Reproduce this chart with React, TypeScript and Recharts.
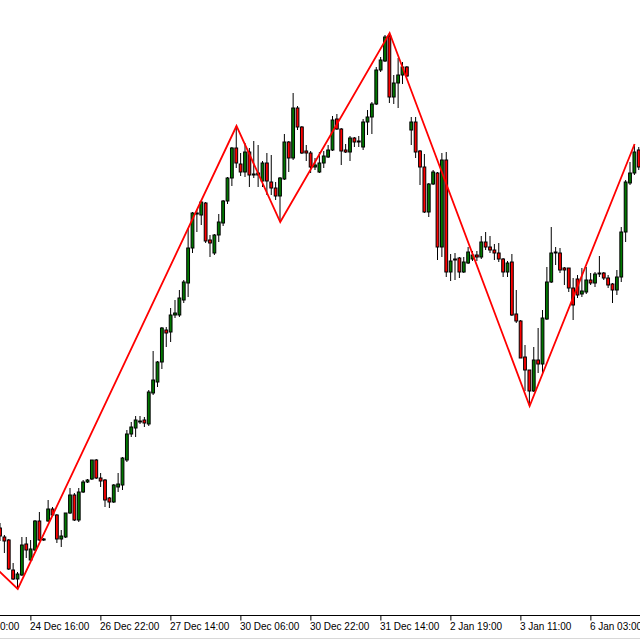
import React from 'react';
import { ComposedChart, Bar, Line, XAxis, YAxis } from 'recharts';

// Hourly candles (price in points), bar index 0..146
const opens = [92,83,80,50,41,45,76,60,70,99, 81,99,111,105,81,83,107,125,100,128, 138,141,160,142,140,122,118,133,135,160, 186,192,199,200,196,227,238,258,290,288, 305,305,320,337,372,406,405,417,380,367, 385,397,419,442,472,456,448,468,445,445, 439,457,438,432,424,441,478,462,512,493, 469,467,453,448,457,463,470,501,491,470, 468,482,479,473,498,503,516,550,559,584, 523,537,545,553,490,498,469,453,408,436, 447,373,460,348,361,362,348,357,361,365, 363,378,373,370,367,361,348,358,306,299, 263,250,229,260,256,301,338,367,367,352, 352,332,341,326,328,340,337,346,347,342, 336,330,343,388,437,447,470];
const highs = [97,85,81,57,48,83,83,80,100,108, 82,120,113,106,90,107,132,127,132,140, 141,160,161,147,141,123,136,147,163,190, 198,204,204,203,230,269,259,293,293,312, 320,330,340,392,408,410,420,418,385,386, 406,420,443,473,494,467,477,472,479,475, 459,467,465,438,443,486,479,527,514,494, 475,469,462,468,469,475,504,506,492,476, 484,483,484,501,510,518,553,563,585,587, 545,562,558,554,503,503,470,466,437,450, 448,467,468,366,367,363,363,373,369,369, 384,388,384,376,377,362,359,366,330,300, 275,250,273,292,310,353,393,373,372,353, 352,342,345,352,353,347,348,364,348,345, 337,350,393,440,458,476,473];
const lows = [79,67,50,40,31,44,62,59,69,79, 79,98,104,77,73,82,106,99,98,127, 137,140,141,133,113,112,117,128,130,158, 183,183,196,193,194,225,233,251,273,278, 302,303,317,323,367,388,395,377,363,365, 378,394,416,434,452,444,443,433,442,433, 433,425,425,420,398,440,448,460,490,466, 459,447,450,447,452,462,469,490,455,467, 459,473,473,470,485,486,515,548,558,517, 516,512,536,543,475,462,435,407,403,435, 360,363,343,339,340,342,347,356,359,359, 361,370,367,360,358,343,343,304,297,262, 229,214,228,247,247,300,337,355,347,335, 328,300,322,323,326,335,333,343,340,332, 317,325,338,378,435,445,450];
const closes = [84,79,51,41,46,75,70,71,99,80, 80,111,105,81,84,107,125,100,128,138, 140,160,142,139,120,118,135,136,162,186, 193,200,198,197,228,240,258,292,287,305, 307,322,338,372,407,407,418,379,377,385, 398,419,442,472,457,448,468,445,446,447, 457,439,432,424,442,478,462,512,493,467, 467,453,455,457,464,470,500,491,469,468, 482,478,478,498,503,516,550,560,583,523, 537,545,553,544,498,468,453,408,436,448, 373,460,348,359,360,348,358,368,365,363, 378,373,370,367,361,348,357,305,299,262, 250,229,260,256,302,338,367,368,350,350, 332,315,325,329,340,337,346,347,342,335, 330,343,388,438,447,468,453];

// ZigZag pivots (bar index, price)
const zzIdx = [-6, 4, 54, 64, 89, 121, 145];
const zzVal = [73, 31, 494, 398, 587, 214, 476];

// Time axis labels (bar index, text)
const tickIdx = [-9, 7, 23, 39, 55, 71, 87, 103, 119, 135];
const tickText = ['24 Dec 00:00', '24 Dec 16:00', '26 Dec 22:00', '27 Dec 14:00', '30 Dec 06:00', '30 Dec 22:00', '31 Dec 14:00', '2 Jan 19:00', '3 Jan 11:00', '6 Jan 03:00'];

const GREEN = '#007800';
const RED = '#ff0000';

type Row = { t: number; o?: number; h?: number; l?: number; c?: number; range?: [number, number]; zz?: number };

const rows: Row[] = [];
zzIdx.forEach((t, k) => { if (t < 0) rows.push({ t, zz: zzVal[k] }); });
opens.forEach((o, i) => {
  const k = zzIdx.indexOf(i);
  rows.push({ t: i, o, h: highs[i], l: lows[i], c: closes[i], range: [lows[i], highs[i]], zz: k >= 0 ? zzVal[k] : undefined });
});

const Candle = (props: any) => {
  const { x, y, width, height, payload } = props;
  if (!payload || payload.h == null || !isFinite(y)) return null;
  const { o, h, l, c } = payload;
  const cx = x + width / 2;
  const ratio = h > l ? height / (h - l) : 0;
  const yOf = (v: number) => y + (h - v) * ratio;
  const top = yOf(Math.max(o, c));
  const bot = yOf(Math.min(o, c));
  const fill = c > o ? GREEN : c < o ? RED : '#000';
  const bh = Math.max(bot - top, 0.8);
  return (
    <g>
      <line x1={cx} x2={cx} y1={y} y2={y + height} stroke="#000" strokeWidth={1} />
      <rect x={cx - 1.4} y={top} width={2.8} height={bh} fill={fill} stroke="#000" strokeWidth={1} />
    </g>
  );
};

const TimeTick = (props: any) => {
  const { x, y, payload } = props;
  const k = tickIdx.indexOf(payload.value);
  const label = k >= 0 ? tickText[k] : '';
  return (
    <text x={x - 1} y={y + 7} textAnchor="start" fontFamily="'Liberation Sans', Arial, sans-serif" fontSize={10} fill="#000">
      {label}
    </text>
  );
};

const A = -14;
const W = 701;
const B = A + W / 4.375;
const LEFT = 0.7 + A * 4.375;

export default function App() {
  return (
    <div style={{ position: 'absolute', left: 0, top: 0, width: 640, height: 640, overflow: 'hidden', background: '#fff' }}>
      <div style={{ position: 'absolute', left: LEFT, top: 0 }}>
        <ComposedChart width={W} height={640} data={rows} margin={{ top: 0, right: 0, bottom: 0, left: 0 }}>
          <XAxis
            type="number"
            dataKey="t"
            domain={[A, B]}
            allowDataOverflow
            ticks={tickIdx}
            interval={0}
            tick={<TimeTick />}
            tickSize={5}
            tickMargin={2}
            tickLine={{ stroke: '#000' }}
            axisLine={{ stroke: '#000' }}
            height={24.5}
          />
          <YAxis type="number" domain={[4.5, 620]} hide allowDataOverflow />
          <Bar dataKey="range" shape={<Candle />} isAnimationActive={false} />
          <Line type="linear" dataKey="zz" stroke="#ff0000" strokeWidth={1.8} dot={false} activeDot={false} connectNulls isAnimationActive={false} />
        </ComposedChart>
      </div>
      <div style={{ position: 'absolute', left: 0, top: 638, width: 640, height: 1, background: '#d8d8d8' }} />
    </div>
  );
}
